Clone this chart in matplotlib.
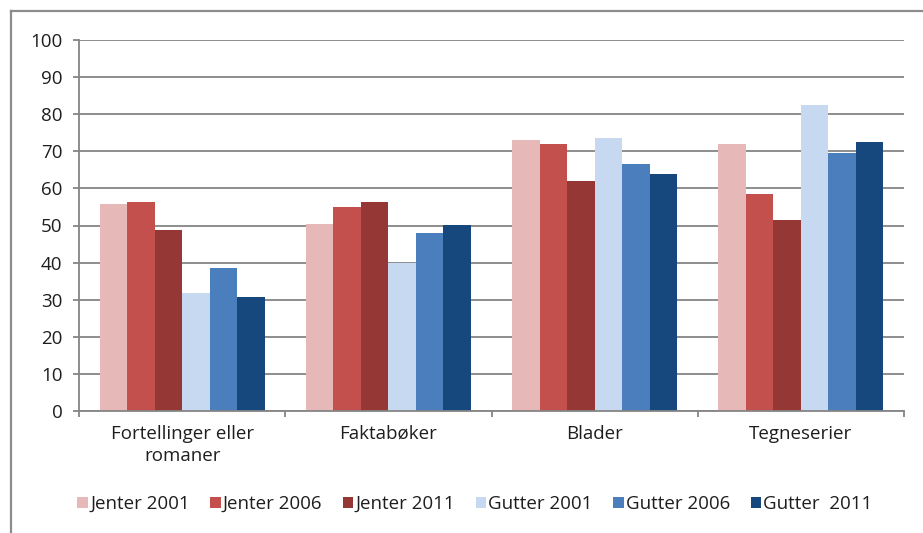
import matplotlib
matplotlib.use("Agg")
import matplotlib.pyplot as plt
from matplotlib.patches import Patch
from matplotlib.lines import Line2D
import numpy as np

plt.rcParams['font.family'] = ['Open Sans', 'DejaVu Sans']

categories = ["Fortellinger eller\nromaner", "Faktabøker", "Blader", "Tegneserier"]
series_names = ["Jenter 2001", "Jenter 2006", "Jenter 2011",
                "Gutter 2001", "Gutter 2006", "Gutter  2011"]
jenter_2001 = [55.8, 50.5, 73.0, 72.1]
jenter_2006 = [56.4, 54.9, 71.9, 58.5]
jenter_2011 = [48.9, 56.2, 62.1, 51.6]
gutter_2001 = [31.8, 40.0, 73.7, 82.6]
gutter_2006 = [38.5, 48.1, 66.6, 69.5]
gutter_2011 = [30.6, 50.2, 63.8, 72.5]
series_values = [jenter_2001, jenter_2006, jenter_2011,
                 gutter_2001, gutter_2006, gutter_2011]
colors = ["#E6B9B8", "#C3504D", "#953735", "#C6D9F1", "#4A7EBD", "#17487D"]
yticks = list(range(0, 101, 10))

W, H = 923, 533
fig = plt.figure(figsize=(W / 100, H / 100), dpi=100)
ax = fig.add_axes([79 / W, 1 - 411 / H, (904 - 79) / W, (411 - 40) / H])

n = len(series_values)
group_w = 0.8
bw = group_w / n
x = np.arange(len(categories))
for i, (vals, c) in enumerate(zip(series_values, colors)):
    ax.bar(x - group_w / 2 + bw * (i + 0.5), vals, width=bw, color=c,
           edgecolor='none', zorder=3, label=series_names[i])

gray = "#858585"
ax.set_xlim(-0.5, len(categories) - 0.5)
ax.set_ylim(0, 100)
ax.set_yticks(yticks)
ax.yaxis.grid(True, color=gray, linewidth=1.3, zorder=1)
ax.set_axisbelow(True)
for s in ['top', 'right']:
    ax.spines[s].set_visible(False)
for s in ['left', 'bottom']:
    ax.spines[s].set_color(gray)
    ax.spines[s].set_linewidth(1.3)
    ax.spines[s].set_zorder(4)

txt = "#1e1e1e"
ax.tick_params(axis='y', length=4.3, width=1.3, color=gray, pad=7.5,
               labelsize=13.5, labelcolor=txt)
ax.set_xticks(x)
ax.set_xticklabels(categories, fontsize=13.5, color=txt, linespacing=1.3)
ax.tick_params(axis='x', which='major', length=0, pad=10)
ax.set_xticks(np.arange(len(categories) + 1) - 0.5, minor=True)
ax.tick_params(axis='x', which='minor', length=4.3, width=1.3, color=gray)

handles = [Patch(facecolor=c, edgecolor='none') for c in colors]
fig.legend(handles, series_names, loc='center', ncol=6,
           bbox_to_anchor=(475 / W, 1 - 504 / H), frameon=False,
           fontsize=13.5, labelcolor=txt, handlelength=0.55, handleheight=0.55,
           handletextpad=0.12, columnspacing=1.1, borderaxespad=0)

# outer chart frame (cropped on right and bottom)
fx = 11 / W
fy = 1 - 11 / H
fig.add_artist(Line2D([fx, fx], [0, fy], transform=fig.transFigure,
                      color="#8c8c8c", linewidth=1.6))
fig.add_artist(Line2D([fx, 1], [fy, fy], transform=fig.transFigure,
                      color="#8c8c8c", linewidth=1.6))

fig.savefig("out.png", dpi=100)
